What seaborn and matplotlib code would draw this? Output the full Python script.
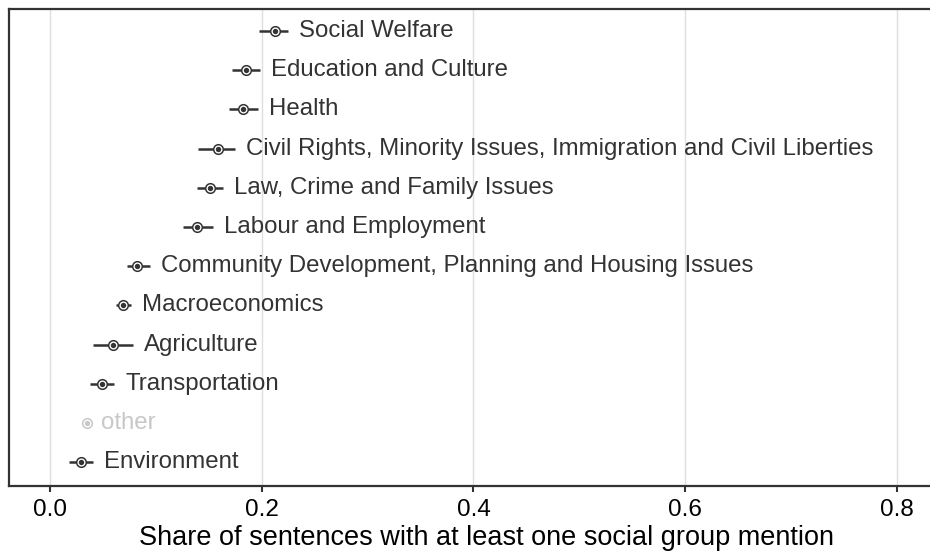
import matplotlib
matplotlib.use("Agg")
import matplotlib.pyplot as plt
import seaborn as sns
import numpy as np
import pandas as pd

# topics, ordered top to bottom
topics = [
    "Social Welfare",
    "Education and Culture",
    "Health",
    "Civil Rights, Minority Issues, Immigration and Civil Liberties",
    "Law, Crime and Family Issues",
    "Labour and Employment",
    "Community Development, Planning and Housing Issues",
    "Macroeconomics",
    "Agriculture",
    "Transportation",
    "other",
    "Environment",
]
share = [0.2125, 0.1851, 0.1823, 0.1587, 0.1511, 0.1388,
         0.0822, 0.0690, 0.0595, 0.0491, 0.0349, 0.0293]
lower = [0.1974, 0.1719, 0.1691, 0.1398, 0.1388, 0.1256,
         0.0727, 0.0623, 0.0406, 0.0378, np.nan, 0.0179]
upper = [0.2248, 0.1983, 0.1965, 0.1747, 0.1634, 0.1540,
         0.0945, 0.0765, 0.0784, 0.0604, np.nan, 0.0406]

df = pd.DataFrame({"topic": topics, "share": share, "lower": lower, "upper": upper})
df["pos"] = np.arange(len(df))
df["is_other"] = df["topic"] == "other"

dark = "#333333"
grey = "#c8c8c8"

sns.set_theme(style="white")
plt.rcParams["font.family"] = ["Liberation Sans", "DejaVu Sans"]

fig = plt.figure(figsize=(9.3, 5.52), dpi=100)
# panel runs past the right edge of the figure, as in the original
ax = fig.add_axes([9 / 930, 66 / 552, (964 - 9) / 930, (486 - 9) / 552])

main = df[~df["is_other"]]
oth = df[df["is_other"]]

ax.hlines(main["pos"], main["lower"], main["upper"], color=dark, lw=1.8, zorder=3)
sns.scatterplot(data=main, x="share", y="pos", ax=ax, s=48, marker="o",
                facecolor="white", edgecolor=dark, linewidth=1.1, zorder=4, legend=False)
sns.scatterplot(data=main, x="share", y="pos", ax=ax, s=15, marker="o",
                color=dark, linewidth=0, zorder=5, legend=False)
sns.scatterplot(data=oth, x="share", y="pos", ax=ax, s=48, marker="o",
                facecolor="white", edgecolor=grey, linewidth=1.1, zorder=4, legend=False)
sns.scatterplot(data=oth, x="share", y="pos", ax=ax, s=15, marker="o",
                color=grey, linewidth=0, zorder=5, legend=False)

for _, r in df.iterrows():
    xr = r["share"] + 0.003 if r["is_other"] else r["upper"]
    ax.text(xr + 0.0105, r["pos"], r["topic"], ha="left", va="center",
            fontsize=17.3, color=grey if r["is_other"] else dark)

ax.set_xlim(-0.0387, 0.8633)
ax.set_ylim(11.61, -0.56)
ax.set_xticks([0.0, 0.2, 0.4, 0.6, 0.8])
ax.set_xticklabels(["0.0", "0.2", "0.4", "0.6", "0.8"])
ax.set_yticks([])
ax.set_ylabel("")
ax.set_xlabel("Share of sentences with at least one social group mention",
              fontsize=19.5, color="black", labelpad=3)
ax.grid(axis="x", color="#dedede", lw=1)
ax.grid(axis="y", visible=False)
ax.tick_params(axis="x", bottom=True, length=4.5, width=1.5, color=dark,
               labelsize=17.5, labelcolor="black", pad=5)
for side in ["left", "top", "bottom"]:
    ax.spines[side].set_color(dark)
    ax.spines[side].set_linewidth(1.6)
ax.spines["right"].set_visible(False)

fig.savefig("out.png", dpi=100)
